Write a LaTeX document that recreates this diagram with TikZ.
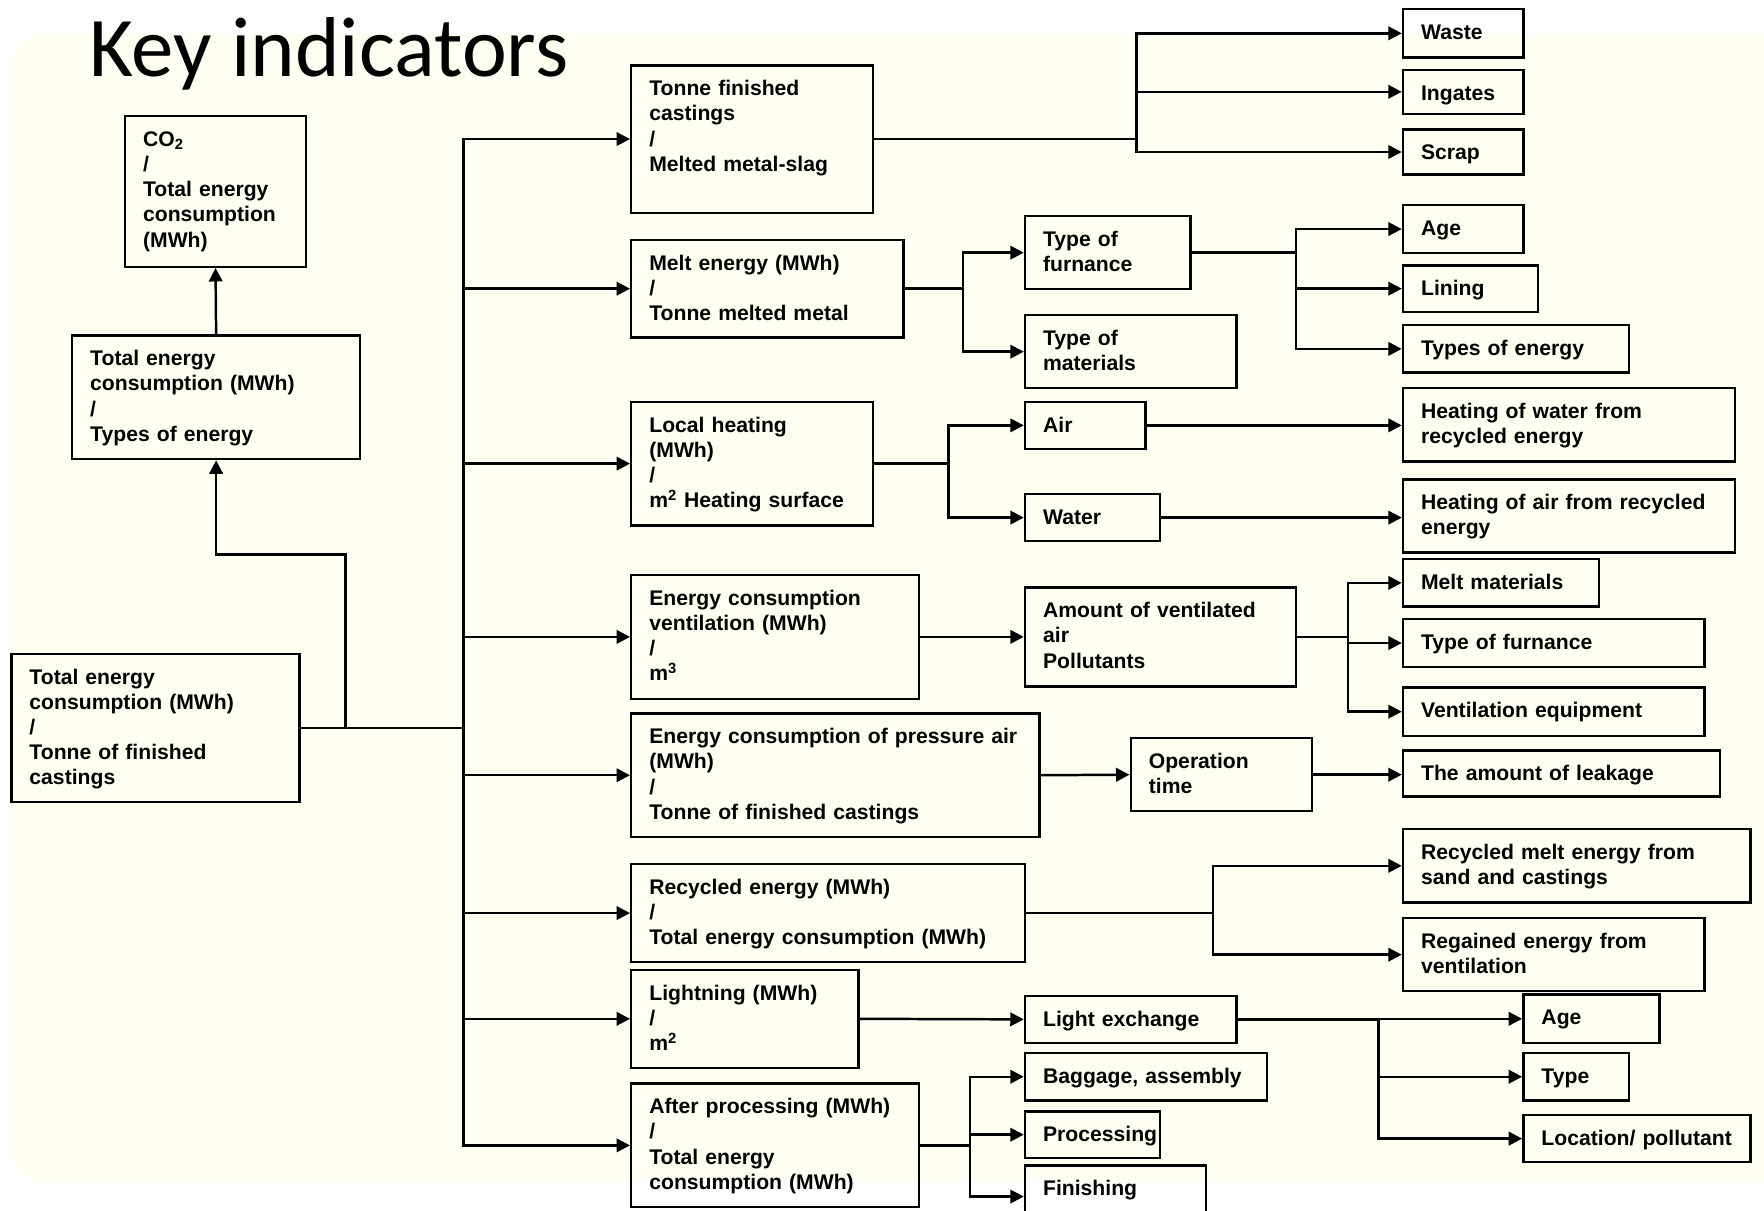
\documentclass[tikz,border=0pt]{standalone}
\usepackage{fontspec}
\setmainfont{Liberation Sans}
\newfontfamily\titlefont{Carlito}
\usetikzlibrary{arrows.meta}
\definecolor{bgc}{RGB}{255,255,242}
\tikzset{
  boxs/.style={draw=black, line width=2.2pt, rectangle, inner sep=0pt},
  txt/.style={anchor=base west, inner sep=0pt, align=left, text width=420pt,
              font=\bfseries\fontsize{18.8}{22.4}\selectfont},
  conn/.style={draw=black, line width=2.2pt},
  arr/.style={conn, -{Triangle[length=12pt,width=12pt]}},
}
\newcommand\bx[6]{%
  \node[boxs, minimum width=#4-#2, minimum height=#5-#3, anchor=north west] (#1) at (#2,#3) {};
  \node[txt] (#1-t) at (#2+17,#3+28) {#6};
}
\begin{document}
\begin{tikzpicture}[x=1pt,y=-1pt]
\useasboundingbox (0,0) rectangle (1568,1076);
\fill[bgc, rounded corners=30pt] (10,30) rectangle (1620,1050);
\node[font=\titlefont\fontsize{75.5}{80}\selectfont, anchor=base west, inner sep=0pt] (title) at (79,68) {Key indicators};

% left column
\bx{co2}{110}{102}{271}{236}{CO\textsubscript{2}\\/\\Total energy\\consumption\\(MWh)}
\bx{tet}{63}{297}{319}{407}{Total energy\\consumption (MWh)\\/\\Types of energy}
\bx{root}{9}{580}{265}{712}{Total energy\\consumption (MWh)\\/\\Tonne of finished\\castings}

% second column
\bx{a}{560}{57}{775}{188}{Tonne finished\\castings\\/\\Melted metal-slag}
\bx{b}{560}{212}{802}{299}{Melt energy (MWh)\\/\\Tonne melted metal}
\bx{c}{560}{356}{775}{466}{Local heating\\(MWh)\\/\\m\textsuperscript{2} Heating surface}
\bx{d}{560}{510}{816}{620}{Energy consumption\\ventilation (MWh)\\/\\m\textsuperscript{3}}
\bx{e}{560}{633}{923}{743}{Energy consumption of pressure air\\(MWh)\\/\\Tonne of finished castings}
\bx{f}{560}{767}{910}{854}{Recycled energy (MWh)\\/\\Total energy consumption (MWh)}
\bx{g}{560}{861}{762}{948}{Lightning (MWh)\\/\\m\textsuperscript{2}}
\bx{h}{560}{962}{816}{1072}{After processing (MWh)\\/\\Total energy\\consumption (MWh)}

% further boxes
\bx{waste}{1246}{7}{1353}{50}{Waste}
\bx{ingates}{1246}{61}{1353}{100}{Ingates}
\bx{scrap}{1246}{114}{1353}{154}{Scrap}
\bx{tfur}{910}{191}{1057}{256}{Type of\\furnance}
\bx{tmat}{910}{279}{1098}{344}{Type of\\materials}
\bx{age}{1246}{181}{1353}{224}{Age}
\bx{lining}{1246}{235}{1366}{276}{Lining}
\bx{toe}{1246}{288}{1447}{330}{Types of energy}
\bx{air}{910}{356}{1017}{398}{Air}
\bx{water}{910}{438}{1030}{480}{Water}
\bx{hw}{1246}{344}{1541}{409}{Heating of water from\\recycled energy}
\bx{ha}{1246}{425}{1541}{490}{Heating of air from recycled\\energy}
\bx{amt}{910}{521}{1151}{609}{Amount of ventilated\\air\\Pollutants}
\bx{mm}{1246}{496}{1420}{538}{Melt materials}
\bx{tf2}{1246}{549}{1514}{592}{Type of furnance}
\bx{ve}{1246}{610}{1514}{653}{Ventilation equipment}
\bx{ot}{1004}{655}{1165}{720}{Operation\\time}
\bx{leak}{1246}{666}{1528}{707}{The amount of leakage}
\bx{rme}{1246}{736}{1555}{801}{Recycled melt energy from\\sand and castings}
\bx{reg}{1246}{815}{1514}{880}{Regained energy from\\ventilation}
\bx{le}{910}{884}{1098}{926}{Light exchange}
\bx{age2}{1353}{883}{1474}{926}{Age}
\bx{type}{1353}{935}{1447}{977}{Type}
\bx{loc}{1353}{990}{1555}{1032}{Location/ pollutant}
\bx{bag}{910}{935}{1125}{977}{Baggage, assembly}
\bx{proc}{910}{987}{1030}{1028}{Processing}
\bx{fin}{910}{1035}{1071}{1090}{Finishing}

% connectors with junctions
\draw[arr] (tet.north) -- (co2.south);
\draw[conn] (root.east) -- ++(40,0) coordinate (j0) -- ++(105,0) coordinate (j1);
\coordinate (k0) at (j0 |- 0,493);
\draw[arr] (j0) -- (k0) -| (tet.south);
\foreach \n in {a,b,c,d,e,f,g,h} \draw[arr] (j1) |- (\n.west);

\draw[conn] (a.east) -- ++(233,0) coordinate (ja);
\foreach \n in {waste,ingates,scrap} \draw[arr] (ja) |- (\n.west);

\draw[conn] (b.east) -- ++(52,0) coordinate (jb);
\foreach \n in {tfur,tmat} \draw[arr] (jb) |- (\n.west);
\draw[conn] (tfur.east) -- ++(93,0) coordinate (jtf);
\foreach \n in {age,lining,toe} \draw[arr] (jtf) |- (\n.west);

\draw[conn] (c.east) -- ++(66,0) coordinate (jc);
\foreach \n in {air,water} \draw[arr] (jc) |- (\n.west);
\draw[arr] (air.east) -- (air.east -| hw.west);
\draw[arr] (water.east) -- (water.east -| ha.west);

\draw[arr] (d.east) -- (amt.west);
\draw[conn] (amt.east) -- ++(45,0) coordinate (jd);
\foreach \n in {mm,tf2,ve} \draw[arr] (jd) |- (\n.west);

\draw[arr] (e.east) -- (ot.west);
\draw[arr] (ot.east) -- (ot.east -| leak.west);

\draw[conn] (f.east) -- ++(166,0) coordinate (jf);
\foreach \n in {rme,reg} \draw[arr] (jf) |- (\n.west);

\draw[arr] (g.east) -- (le.west);
\draw[conn] (le.east) -- ++(125,0) coordinate (jg);
\foreach \n in {age2,type,loc} \draw[arr] (jg) |- (\n.west);

\draw[conn] (h.east) -- ++(44,0) coordinate (jh);
\foreach \n in {bag,proc,fin} \draw[arr] (jh) |- (\n.west);
\end{tikzpicture}
\end{document}
